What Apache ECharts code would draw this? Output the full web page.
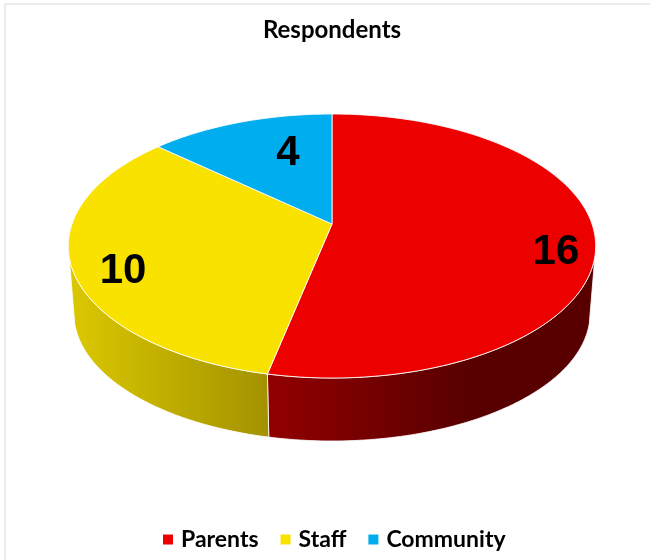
<!DOCTYPE html>
<html>
<head>
<meta charset="utf-8">
<style>html,body{margin:0;padding:0;background:#fff}#chart{width:650px;height:560px}</style>
<script src="https://cdn.jsdelivr.net/npm/echarts@6/dist/echarts.min.js"></script>
</head>
<body>
<div id="chart"></div>
<script>
const categories = ['Parents', 'Staff', 'Community'];
const respondents = [16, 10, 4];

const topColors = ['#EC0000', '#F9E100', '#00AEEF'];
const wallStops = [
  [[0, '#920000'], [0.62, '#580000'], [1, '#580000']],
  [[0, '#DCC800'], [1, '#A39200']],
  [[0, '#008AC0'], [1, '#006A94']]
];
// Label placement inside each slice: radius fraction and turn away from the mid angle, in degrees.
const labelRadius = [0.856, 0.83, 0.655];
const labelTurn = [7.2, -6, 7.4];

// Perspective projection of the disc: the near edge is drawn larger than the far edge.
const TILT = 1 / 6;
const CENTER_X = 332;
const TOP_PLANE = { halfWidth: 260, centerY: 224, rise: -91 };
const BOTTOM_PLANE = { halfWidth: 254.5, centerY: 292, rise: -75.5 };
const FRONT_FROM = 104;
const FRONT_TO = 256;

function project(plane, angle, radius) {
  const t = angle * Math.PI / 180;
  const u = Math.sin(t) * radius;
  const v = Math.cos(t) * radius;
  const w = 1 + TILT * v;
  return [CENTER_X + plane.halfWidth * u / w, (plane.centerY + plane.rise * v) / w];
}

function arc(plane, from, to) {
  const pts = [];
  const steps = Math.max(2, Math.ceil(to - from));
  for (let i = 0; i <= steps; i++) {
    pts.push(project(plane, from + (to - from) * i / steps, 1));
  }
  return pts;
}

const total = respondents.reduce((a, b) => a + b, 0);
const startAngles = respondents.map((_, i) =>
  respondents.slice(0, i).reduce((a, b) => a + b, 0) / total * 360);

function renderSlice(index) {
  return function (params, api) {
    const from = startAngles[index];
    const to = from + api.value(0) / total * 360;
    const children = [];

    const wallFrom = Math.max(from, FRONT_FROM);
    const wallTo = Math.min(to, FRONT_TO);
    if (wallTo > wallFrom) {
      const outer = arc(TOP_PLANE, wallFrom, wallTo);
      const inner = arc(BOTTOM_PLANE, wallFrom, wallTo).reverse();
      children.push({
        type: 'polygon',
        z2: 1,
        shape: { points: outer.concat(inner) },
        style: {
          fill: new echarts.graphic.LinearGradient(0, 0, 1, 0,
            wallStops[index].map(s => ({ offset: s[0], color: s[1] }))),
          stroke: 'rgba(255,255,255,0.8)',
          lineWidth: 1
        }
      });
    }

    children.push({
      type: 'polygon',
      z2: 2,
      shape: { points: [project(TOP_PLANE, 0, 0)].concat(arc(TOP_PLANE, from, to)) },
      style: { fill: topColors[index], stroke: 'rgba(255,255,255,0.85)', lineWidth: 1 }
    });

    const mid = (from + to) / 2 + labelTurn[index];
    const at = project(TOP_PLANE, mid, labelRadius[index]);
    children.push({
      type: 'text',
      z2: 3,
      x: at[0],
      y: at[1] + 2,
      style: {
        text: String(api.value(0)),
        align: 'center',
        verticalAlign: 'middle',
        fill: '#000',
        font: 'bold 42px "Liberation Sans", Arial, sans-serif'
      }
    });

    return { type: 'group', children };
  };
}

const chart = echarts.init(document.getElementById('chart'), null, { renderer: 'canvas' });
chart.setOption({
  animation: false,
  backgroundColor: '#ffffff',
  title: {
    text: 'Respondents',
    left: 327,
    top: 13,
    textAlign: 'center',
    textStyle: { fontFamily: 'Lato', fontWeight: 'bold', fontSize: 24, color: '#000' }
  },
  legend: {
    data: categories,
    left: 158,
    top: 523,
    icon: 'rect',
    itemWidth: 10,
    itemHeight: 10,
    itemGap: 22,
    selectedMode: false,
    textStyle: { fontFamily: 'Lato', fontWeight: 'bold', fontSize: 23, color: '#000', padding: [0, 0, 0, 3] }
  },
  graphic: [{
    type: 'rect',
    silent: true,
    z: -1,
    shape: { x: 5, y: 4, width: 700, height: 620 },
    style: { fill: '#fff', stroke: '#D9D9D9', lineWidth: 1 }
  }],
  series: categories.map((name, i) => ({
    type: 'custom',
    name,
    coordinateSystem: 'none',
    silent: true,
    itemStyle: { color: topColors[i] },
    data: [[respondents[i]]],
    renderItem: renderSlice(i)
  }))
});
</script>
</body>
</html>
